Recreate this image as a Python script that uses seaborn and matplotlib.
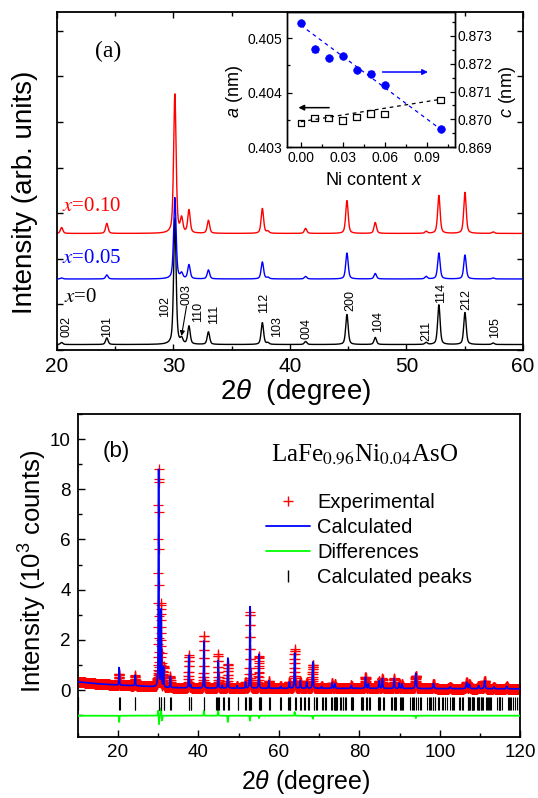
import numpy as np
import matplotlib
matplotlib.use("Agg")
import matplotlib.pyplot as plt
import seaborn as sns
from matplotlib.lines import Line2D
from matplotlib.ticker import MultipleLocator, FormatStrFormatter

# ---------------- data: panel (a) XRD patterns ----------------
hkl_labels = ["002", "101", "102", "003", "110", "111", "112", "103",
              "004", "200", "104", "211", "114", "212", "105"]
peak_pos_a = [20.40, 24.28, 30.12, 30.70, 31.33, 33.00, 37.63, 38.10,
              41.34, 44.89, 47.32, 51.69, 52.78, 55.02, 57.44]
height_x000 = [0.044, 0.145, 2.76, 0.11, 0.395, 0.276, 0.48, 0.033,
               0.066, 0.66, 0.154, 0.044, 0.87, 0.70, 0.033]
height_x005 = [0.022, 0.088, 1.78, 0.11, 0.307, 0.197, 0.373, 0.033,
               0.055, 0.57, 0.12, 0.055, 0.57, 0.526, 0.022]
height_x010 = [0.13, 0.22, 3.05, 0.307, 0.504, 0.285, 0.548, 0.044,
               0.11, 0.724, 0.24, 0.044, 0.833, 0.90, 0.033]
base_x000, base_x005, base_x010 = 0.12, 1.557, 2.555
label_x_a = [20.83, 24.27, 29.27, 31.13, 32.13, 33.48, 37.77, 38.91,
             41.43, 45.15, 47.53, 51.73, 52.94, 55.17, 57.60]
label_y_a = [0.285, 0.285, 0.72, 0.99, 0.61, 0.57, 0.81, 0.285,
             0.24, 0.855, 0.395, 0.20, 1.03, 0.877, 0.26]

# ---------------- data: inset (lattice parameters) ----------------
ni_x = [0.00, 0.01, 0.02, 0.03, 0.04, 0.05, 0.06, 0.10]
a_nm = [0.40345, 0.40354, 0.40354, 0.40349, 0.40356, 0.40362, 0.40361, 0.40387]
c_nm = [0.87344, 0.87251, 0.87219, 0.87227, 0.87177, 0.87164, 0.87124, 0.86967]
c_err = [0.00005, 0.00008, 0.00005, 0.00006, 0.00004, 0.00008, 0.00006, 0.00005]
a_fit_x, a_fit_y = [0.0, 0.10], [0.40347, 0.40388]
c_fit_x, c_fit_y = [0.0, 0.10], [0.87338, 0.86965]

# ---------------- data: panel (b) Rietveld refinement ----------------
peak_pos_b = [20.3, 24.3, 30.1, 30.75, 31.35, 33.0, 37.6, 38.1, 41.35, 44.9,
              45.9, 47.3, 49.6, 51.7, 52.8, 55.0, 57.5, 60.4, 62.6, 63.9,
              65.3, 66.9, 68.4, 70.6, 73.2, 73.9, 78.0, 81.5, 82.2, 84.9,
              85.7, 88.6, 89.9, 90.6, 94.0, 98.4, 102.5, 106.6, 107.3, 109.6,
              111.1, 113.4, 116.6]
calc_h_b = [0.70, 0.42, 8.65, 3.1, 0.8, 0.45, 1.3, 0.12, 1.9, 1.1,
            0.12, 1.2, 0.1, 0.25, 3.25, 1.35, 0.3, 0.08, 0.25, 1.4,
            0.3, 0.25, 1.05, 0.08, 0.22, 0.18, 0.12, 0.45, 0.18, 0.3,
            0.4, 0.4, 0.22, 0.18, 0.6, 0.2, 0.07, 0.25, 0.18, 0.12,
            0.32, 0.07, 0.1]
fwhm_b = [0.16] * 17 + [0.22] * 17 + [0.30] * 9
bg_knot_x = [10, 15, 20, 25, 28, 32, 40, 60, 80, 100, 120]
bg_knot_y = [0.33, 0.25, 0.20, 0.17, 0.14, 0.10, 0.08, 0.07, 0.07, 0.06, 0.05]
diff_pos = [20.3, 30.02, 30.2, 30.7, 30.95, 41.35, 44.9, 47.3, 52.8, 55.05, 63.9, 68.4, 94.0]
diff_amp = [-0.25, 0.22, -0.35, 0.3, -0.2, 0.2, 0.25, -0.25, -0.2, -0.1, 0.15, -0.12, -0.1]
diff_offset = -1.02
# refined lattice parameters (x = 0.04) and Cu K-alpha1/alpha2 wavelengths
lat_a, lat_c = 0.40356, 0.87177
wavelengths = [0.154056, 0.154439]

legend_labels = ["Experimental", "Calculated", "Differences", "Calculated peaks"]


def pseudo_voigt(x, x0, fwhm, eta=0.5):
    t = (x - x0) / fwhm
    return eta / (1 + 4 * t ** 2) + (1 - eta) * np.exp(-4 * np.log(2) * t ** 2)


def pattern(x, pos, hts, fwhm, base):
    y = np.zeros_like(x) + base
    if np.isscalar(fwhm):
        fwhm = [fwhm] * len(pos)
    for p, h, w in zip(pos, hts, fwhm):
        y = y + h * pseudo_voigt(x, p, w)
    return y


# ---------------- style ----------------
sns.set_theme(style="ticks")
plt.rcParams.update({
    "font.family": ["Liberation Sans", "DejaVu Sans"],
    "mathtext.fontset": "custom",
    "mathtext.rm": "Liberation Sans",
    "mathtext.it": "Liberation Sans:italic",
    "mathtext.bf": "Liberation Sans:bold",
    "axes.edgecolor": "black",
    "axes.labelcolor": "black",
    "text.color": "black",
    "xtick.color": "black",
    "ytick.color": "black",
    "xtick.direction": "in",
    "ytick.direction": "in",
    "axes.linewidth": 1.3,
})
SERIF = ["Liberation Serif", "DejaVu Serif"]

fig = plt.figure(figsize=(5.38, 7.98), dpi=100)

# ================= panel (a) =================
ax = fig.add_axes([0.1059, 0.5614, 0.8662, 0.4236])
xa = np.arange(20.0, 60.0001, 0.02)
ya0 = pattern(xa, peak_pos_a, height_x000, 0.25, base_x000)
ya5 = pattern(xa, peak_pos_a, height_x005, 0.25, base_x005)
ya10 = pattern(xa, peak_pos_a, height_x010, 0.25, base_x010)
sns.lineplot(x=xa, y=ya10, ax=ax, color="#FF0000", linewidth=1.0,
             estimator=None, sort=False, zorder=2)
sns.lineplot(x=xa, y=ya0, ax=ax, color="black", linewidth=1.0,
             estimator=None, sort=False, zorder=2.5)
sns.lineplot(x=xa, y=ya5, ax=ax, color="#0000FF", linewidth=1.0,
             estimator=None, sort=False, zorder=3)
ax.set_xlim(20, 60)
ax.set_ylim(0, 7.41)
ax.xaxis.set_major_locator(MultipleLocator(10))
ax.xaxis.set_minor_locator(MultipleLocator(5))
ax.yaxis.set_major_locator(MultipleLocator(1))
ax.tick_params(which="both", direction="in", top=True, right=True,
               labelleft=False, width=1.0)
ax.tick_params(which="major", length=4.5, labelsize=15, pad=5)
ax.tick_params(which="minor", length=3)
ax.set_xlabel(r"2$\theta$  (degree)", fontsize=20, va="center")
ax.xaxis.set_label_coords(0.511, -0.124)
ax.set_ylabel("Intensity (arb. units)", fontsize=20, va="center")
ax.yaxis.set_label_coords(-0.068, 0.467)

for lab, lx, ly in zip(hkl_labels, label_x_a, label_y_a):
    ax.text(lx, ly, lab, rotation=90, ha="center", va="bottom", fontsize=9)
ax.annotate("", xy=(30.69, 0.31), xytext=(31.12, 0.96),
            arrowprops=dict(arrowstyle="-|>", lw=0.8, color="black",
                            shrinkA=0, shrinkB=0, mutation_scale=7))

ax.text(20.4, 3.14, r"$x$=0.10", color="#FF0000", fontsize=15, family=SERIF,
        math_fontfamily="stix", ha="left", va="center")
ax.text(20.45, 2.01, r"$x$=0.05", color="#0000FF", fontsize=15, family=SERIF,
        math_fontfamily="stix", ha="left", va="center")
ax.text(20.6, 1.156, r"$x$=0", color="black", fontsize=15, family=SERIF,
        math_fontfamily="stix", ha="left", va="center")
ax.text(0.1105, 0.8846, "(a)", transform=ax.transAxes, family=SERIF,
        fontsize=17, ha="center", va="center")

# ================= inset =================
axi = fig.add_axes([0.5331, 0.8154, 0.3117, 0.1695])
axi.set_facecolor("white")
for s in axi.spines.values():
    s.set_linewidth(1.0)
axi2 = axi.twinx()
for s in axi2.spines.values():
    s.set_linewidth(1.0)

sns.lineplot(x=a_fit_x, y=a_fit_y, ax=axi, color="black", linewidth=0.9,
             linestyle=(0, (3, 3)), estimator=None, sort=False)
sns.scatterplot(x=ni_x, y=a_nm, ax=axi, marker="s", s=22, facecolor="none",
                edgecolor="black", linewidth=0.9, zorder=3)
axi2.errorbar(ni_x, c_nm, yerr=c_err, fmt="none", ecolor="#0000FF",
              elinewidth=1.0, capsize=2, capthick=1.0, zorder=3)
sns.lineplot(x=c_fit_x, y=c_fit_y, ax=axi2, color="#0000FF", linewidth=0.9,
             linestyle=(0, (3, 3)), estimator=None, sort=False)
sns.scatterplot(x=ni_x, y=c_nm, ax=axi2, marker="o", s=30, color="#0000FF",
                edgecolor="#0000FF", linewidth=0.5, zorder=4)

axi.annotate("", xy=(-0.0017, 0.403727), xytext=(0.0203, 0.403727),
             arrowprops=dict(arrowstyle="-|>", lw=1.1, color="black",
                             shrinkA=0, shrinkB=0, mutation_scale=8))
axi2.annotate("", xy=(0.091, 0.8717), xytext=(0.0585, 0.8717),
              arrowprops=dict(arrowstyle="-|>", lw=1.1, color="#0000FF",
                              shrinkA=0, shrinkB=0, mutation_scale=8))

axi.set_xlim(-0.01, 0.11)
axi.set_ylim(0.403, 0.40548)
axi2.set_ylim(0.869, 0.87385)
axi.xaxis.set_major_locator(MultipleLocator(0.03))
axi.xaxis.set_minor_locator(MultipleLocator(0.015))
axi.xaxis.set_major_formatter(FormatStrFormatter("%.2f"))
axi.yaxis.set_major_locator(MultipleLocator(0.001))
axi.yaxis.set_minor_locator(MultipleLocator(0.0005))
axi.yaxis.set_major_formatter(FormatStrFormatter("%.3f"))
axi2.yaxis.set_major_locator(MultipleLocator(0.001))
axi2.yaxis.set_minor_locator(MultipleLocator(0.0005))
axi2.yaxis.set_major_formatter(FormatStrFormatter("%.3f"))
axi.tick_params(which="both", direction="in", top=False, right=False,
                labelsize=10, width=0.9)
axi.tick_params(which="major", length=3.5, pad=3)
axi.tick_params(which="minor", length=2)
axi.tick_params(axis="y", pad=3)
axi2.tick_params(which="both", direction="in", labelsize=10, width=0.9)
axi2.tick_params(which="major", length=3.5, pad=2)
axi2.tick_params(which="minor", length=2)
axi.set_xlabel(r"Ni content $x$", fontsize=13, va="center")
axi.xaxis.set_label_coords(0.518, -0.242)
axi.set_ylabel(r"$a$ (nm)", fontsize=13, va="center")
axi.yaxis.set_label_coords(-0.309, 0.409)
axi2.set_ylabel(r"$c$ (nm)", fontsize=13, va="center", rotation=90)
axi2.yaxis.set_label_coords(1.317, 0.409)

# ================= panel (b) =================
axb = fig.add_axes([0.1444, 0.0761, 0.8230, 0.4051])
xb = np.arange(10.0, 120.0001, 0.02)
bg_b = np.interp(xb, bg_knot_x, bg_knot_y)
calc_b = pattern(xb, peak_pos_b, calc_h_b, fwhm_b, 0.0) + bg_b
diff_b = pattern(xb, diff_pos, diff_amp, 0.12, 0.0)
exp_b = calc_b + diff_b

# calculated Bragg positions from the refined lattice parameters
bragg = []
for lam in wavelengths:
    for h in range(0, 6):
        for k in range(0, h + 1):
            for l in range(0, 11):
                if h == 0 and k == 0 and l == 0:
                    continue
                if l == 0 and (h + k) % 2:
                    continue
                d = 1.0 / np.sqrt((h * h + k * k) / lat_a ** 2 + l * l / lat_c ** 2)
                sv = lam / (2 * d)
                if sv < 1:
                    tt = 2 * np.degrees(np.arcsin(sv))
                    if 10 <= tt <= 120:
                        bragg.append(tt)

sns.scatterplot(x=xb, y=exp_b, ax=axb, marker="+", s=58, color="#FF0000",
                linewidth=0.9, zorder=2)
sns.lineplot(x=xb, y=calc_b, ax=axb, color="#0000FF", linewidth=1.2,
             estimator=None, sort=False, zorder=3)
sns.lineplot(x=xb, y=diff_b + diff_offset, ax=axb, color="#00FF00",
             linewidth=1.3, estimator=None, sort=False, zorder=3)
axb.vlines(bragg, -0.80, -0.28, color="black", linewidth=0.8, zorder=3)

axb.set_xlim(10, 120)
axb.set_ylim(-1.88, 11)
axb.xaxis.set_major_locator(MultipleLocator(20))
axb.xaxis.set_minor_locator(MultipleLocator(10))
axb.yaxis.set_major_locator(MultipleLocator(2))
axb.yaxis.set_minor_locator(MultipleLocator(1))
axb.tick_params(which="both", direction="in", top=False, right=False, width=1.0)
axb.tick_params(which="major", length=5, labelsize=13.6, pad=5)
axb.tick_params(which="minor", length=3)
axb.set_xlabel(r"2$\theta$ (degree)", fontsize=18, va="center")
axb.xaxis.set_label_coords(0.515, -0.137)
axb.set_ylabel(r"Intensity (10$^3$ counts)", fontsize=18.5, va="center")
axb.yaxis.set_label_coords(-0.101, 0.514)

axb.text(0.0876, 0.8834, "(b)", transform=axb.transAxes, fontsize=16,
         ha="center", va="center")
axb.text(0.4365, 0.8577, r"LaFe$_{\mathrm{0.96}}$Ni$_{\mathrm{0.04}}$AsO",
         transform=axb.transAxes, family=SERIF, math_fontfamily="stix",
         fontsize=18, ha="left", va="baseline")

handles = [
    Line2D([], [], marker="+", ls="none", color="#FF0000", markersize=7, mew=1.0),
    Line2D([], [], color="#0000FF", lw=1.3),
    Line2D([], [], color="#00FF00", lw=1.3),
    Line2D([], [], marker="|", ls="none", color="black", markersize=8, mew=1.0),
]
axb.legend(handles, legend_labels, loc="upper left",
           bbox_to_anchor=(0.4253, 0.7555), frameon=False, fontsize=14.5,
           handlelength=2.2, handletextpad=0.35, labelspacing=0.3,
           borderpad=0, borderaxespad=0)

fig.savefig("out.png", dpi=100)
